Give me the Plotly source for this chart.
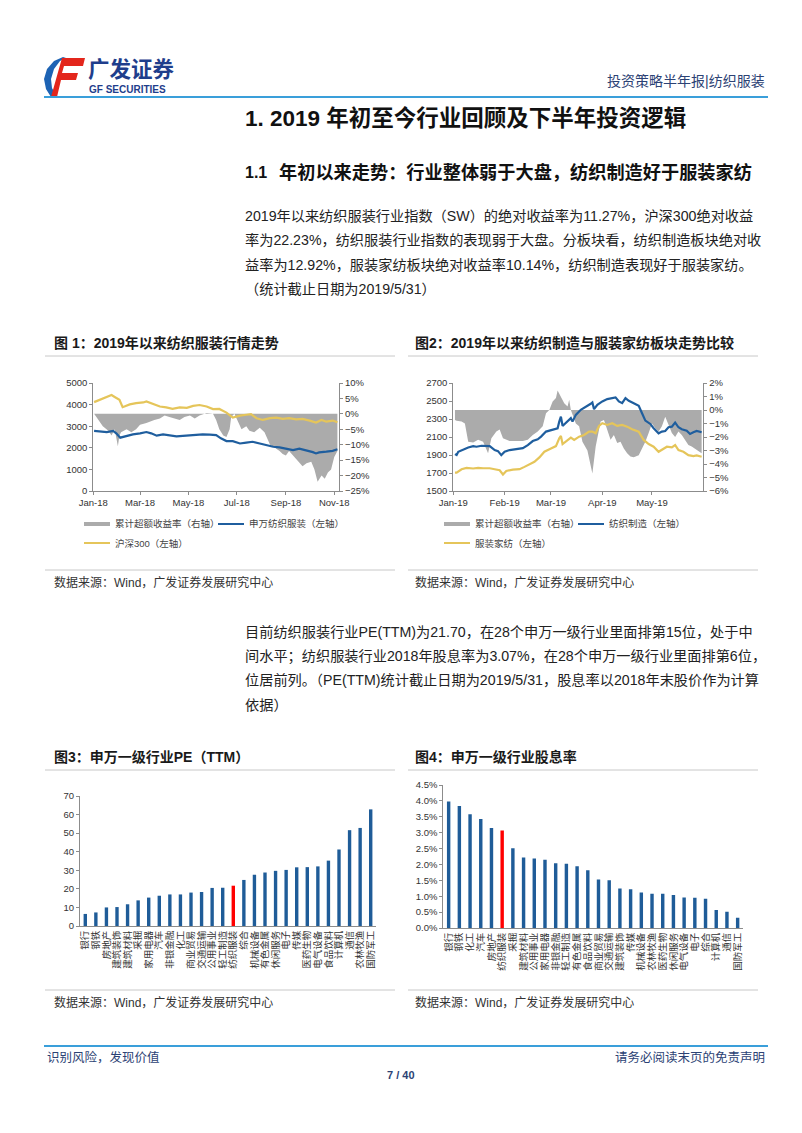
import plotly.graph_objects as go

W, H = 802, 1133
OFF = 8  # the page body adds an 8px margin; shift drawing to compensate

# ---------------- data ----------------
# Chart 1 (2018)
c1_excess_dates = ["2018-01-02","2018-01-07","2018-01-13","2018-01-20","2018-01-24","2018-01-28","2018-02-01","2018-02-03","2018-02-05","2018-02-12",
"2018-02-18","2018-02-24","2018-03-01","2018-03-09","2018-03-13","2018-03-19","2018-03-26","2018-04-01","2018-04-07","2018-04-14",
"2018-04-20","2018-04-26","2018-05-03","2018-05-09","2018-05-15","2018-05-24","2018-06-01","2018-06-05","2018-06-09","2018-06-14",
"2018-06-18","2018-06-22","2018-06-24","2018-06-28","2018-07-03","2018-07-07","2018-07-13","2018-07-17","2018-07-23","2018-07-30",
"2018-08-05","2018-08-12","2018-08-18","2018-08-24","2018-08-28","2018-09-01","2018-09-05","2018-09-12","2018-09-18","2018-09-22",
"2018-09-27","2018-10-03","2018-10-07","2018-10-11","2018-10-16","2018-10-20","2018-10-24","2018-10-28","2018-11-01","2018-11-05"]
c1_excess = [0,-2,-4,-5.5,-7,-5,-10.5,-7,-6,-5, -6,-5,-3.5,-3,-2.5,-2,-1.5,-0.5,-1,-1.5,
-2,-1,-0.5,-1.5,-0.5,0.3,0,-2,-5,-7, -7.5,-5,-1,0,-3,-5,-4,-5.5,-6,-4.5,
-6,-10,-11,-12,-13,-13.5,-12,-14,-15.5,-17, -16,-15.5,-18,-22,-20,-21,-19,-18,-14,-12]

c1_sw_dates = ["2018-01-02","2018-01-09","2018-01-18","2018-01-26","2018-01-30","2018-02-04","2018-02-12","2018-02-20","2018-03-01","2018-03-09",
"2018-03-15","2018-03-22","2018-03-30","2018-04-07","2018-04-16","2018-04-24","2018-05-03","2018-05-11","2018-05-19","2018-05-28",
"2018-06-05","2018-06-11","2018-06-18","2018-06-26","2018-07-05","2018-07-13","2018-07-21","2018-07-30","2018-08-07","2018-08-16",
"2018-08-24","2018-09-01","2018-09-10","2018-09-18","2018-09-27","2018-10-05","2018-10-09","2018-10-13","2018-10-22","2018-10-30","2018-11-05"]
c1_sw = [2780,2750,2730,2780,2670,2470,2550,2620,2670,2730, 2670,2560,2620,2580,2530,2550,2580,2620,2620,2610,
2590,2440,2310,2310,2200,2240,2280,2200,2130,2050, 2020,1960,1890,1960,1890,1800,1740,1790,1820,1860,1930]

c1_hs_dates = ["2018-01-02","2018-01-09","2018-01-18","2018-01-24","2018-01-28","2018-02-03","2018-02-07","2018-02-16","2018-02-24","2018-03-05",
"2018-03-09","2018-03-17","2018-03-26","2018-04-03","2018-04-11","2018-04-20","2018-04-29","2018-05-07","2018-05-15","2018-05-24",
"2018-06-01","2018-06-09","2018-06-18","2018-06-26","2018-07-05","2018-07-13","2018-07-19","2018-07-26","2018-08-03","2018-08-12",
"2018-08-20","2018-08-28","2018-09-05","2018-09-14","2018-09-22","2018-10-01","2018-10-09","2018-10-16","2018-10-22","2018-10-30","2018-11-05"]
c1_hs = [4115,4220,4350,4440,4350,4220,3880,4010,4070,4100, 4150,4020,3910,3870,3800,3870,3850,3940,3980,3910,
3790,3800,3630,3400,3490,3530,3560,3370,3290,3370, 3400,3340,3370,3320,3340,3260,3170,3290,3210,3260,3180]

# Chart 2 (2019)
c2_excess_dates = ["2019-01-02","2019-01-03","2019-01-06","2019-01-08","2019-01-10","2019-01-13","2019-01-16","2019-01-19","2019-01-22","2019-01-24",
"2019-01-27","2019-01-29","2019-01-31","2019-02-04","2019-02-08","2019-02-12","2019-02-15","2019-02-18","2019-02-21","2019-02-24",
"2019-02-26","2019-02-28","2019-03-02","2019-03-04","2019-03-05","2019-03-07","2019-03-09","2019-03-11","2019-03-12","2019-03-13",
"2019-03-15","2019-03-16","2019-03-18","2019-03-20","2019-03-23","2019-03-25","2019-03-26","2019-03-28","2019-03-29","2019-03-31",
"2019-04-02","2019-04-04","2019-04-06","2019-04-08","2019-04-10","2019-04-12","2019-04-14","2019-04-16","2019-04-18","2019-04-20",
"2019-04-23","2019-04-25","2019-04-27","2019-04-29","2019-05-01","2019-05-03","2019-05-05","2019-05-07","2019-05-09","2019-05-11",
"2019-05-13","2019-05-15","2019-05-17","2019-05-19","2019-05-21","2019-05-23","2019-05-25","2019-05-27","2019-05-29","2019-05-31"]
c2_excess = [-0.75,-0.8,-0.85,-1.0,-2.35,-2.4,-2.2,-2.35,-3.2,-2.1, -1.6,-1.45,-2.1,-2.3,-2.3,-2.3,-2.2,-1.85,-1.6,-1.2,
-0.25,0,0.63,0.88,1.45,1.0,0.5,0.25,0.75,0, -0.6,-1.0,-1.2,-2.35,-3.0,-4.0,-4.7,-2.7,-2.0,-0.85,
-0.75,-1.5,-2.2,-1.85,-2.45,-2.35,-2.85,-3.2,-3.45,-3.5, -3.35,-2.85,-2.35,-1.7,-1.0,-1.35,-1.6,-1.2,-0.5,-1.1,
-1.7,-2.0,-1.6,-1.85,-2.2,-2.6,-2.7,-2.85,-3.0,-3.2]

c2_mfg_dates = ["2019-01-02","2019-01-03","2019-01-04","2019-01-07","2019-01-10","2019-01-13","2019-01-15","2019-01-18","2019-01-21","2019-01-23",
"2019-01-26","2019-01-28","2019-01-30","2019-02-01","2019-02-04","2019-02-08","2019-02-12","2019-02-15","2019-02-18","2019-02-21",
"2019-02-23","2019-02-26","2019-03-02","2019-03-05","2019-03-06","2019-03-07","2019-03-08","2019-03-11","2019-03-13","2019-03-14",
"2019-03-16","2019-03-19","2019-03-22","2019-03-25","2019-03-26","2019-03-27","2019-03-29","2019-04-01","2019-04-04","2019-04-07",
"2019-04-09","2019-04-11","2019-04-13","2019-04-15","2019-04-17","2019-04-20","2019-04-23","2019-04-25","2019-04-27","2019-04-30",
"2019-05-02","2019-05-05","2019-05-07","2019-05-09","2019-05-11","2019-05-13","2019-05-15","2019-05-17","2019-05-19","2019-05-22",
"2019-05-24","2019-05-26","2019-05-28","2019-05-31"]
c2_mfg = [1910,1900,1936,1962,1984,1999,1992,2003,1996,1999, 1955,1943,1899,1936,1955,1962,1977,2010,2055,2074,
2104,2160,2178,2197,2271,2327,2223,2271,2309,2271, 2346,2402,2432,2469,2484,2409,2458,2495,2521,2532,
2540,2495,2476,2532,2502,2476,2447,2364,2282,2245, 2197,2141,2160,2167,2208,2215,2260,2208,2186,2171,
2134,2153,2167,2153]

c2_home_dates = ["2019-01-02","2019-01-03","2019-01-06","2019-01-09","2019-01-13","2019-01-16","2019-01-19","2019-01-23","2019-01-26","2019-01-29",
"2019-01-31","2019-02-02","2019-02-06","2019-02-10","2019-02-13","2019-02-16","2019-02-19","2019-02-22","2019-02-25","2019-03-01",
"2019-03-04","2019-03-06","2019-03-07","2019-03-08","2019-03-11","2019-03-13","2019-03-15","2019-03-18","2019-03-21","2019-03-24",
"2019-03-26","2019-03-28","2019-03-30","2019-04-01","2019-04-04","2019-04-07","2019-04-10","2019-04-13","2019-04-16","2019-04-19",
"2019-04-23","2019-04-26","2019-04-29","2019-05-02","2019-05-05","2019-05-08","2019-05-10","2019-05-13","2019-05-15","2019-05-17",
"2019-05-20","2019-05-23","2019-05-26","2019-05-28","2019-05-31"]
c2_home = [1705,1705,1742,1757,1750,1757,1753,1753,1742,1731, 1683,1723,1738,1742,1768,1798,1824,1873,1936,1973,
1999,2085,2111,2022,2067,2093,2067,2104,2122,2160, 2160,2141,2223,2253,2234,2253,2223,2234,2215,2186,
2160,2067,2022,1992,1936,1973,1992,1984,2010,1955, 1936,1899,1888,1895,1880]

# Chart 3: PE(TTM)
pe_industries = ["银行","钢铁","房地产","建筑装饰","建筑材料","采掘","家用电器","汽车","非银金融","化工",
"商业贸易","交通运输","公用事业","轻工制造","纺织服装","综合","机械设备","有色金属","休闲服务","电子",
"传媒","医药生物","电气设备","食品饮料","计算机","通信","农林牧渔","国防军工"]
pe_values = [6.5,7.3,10.0,10.2,11.7,13.8,15.3,16.3,17.0,17.0,18.0,18.3,20.5,20.6,21.7,24.8,27.6,28.8,29.7,30.2,
31.6,31.7,32.1,35.2,41.2,51.6,52.8,62.8]

# Chart 4: dividend yield (%)
dy_industries = ["银行","钢铁","化工","汽车","房地产","纺织服装","采掘","建筑材料","公用事业","家用电器",
"非银金融","轻工制造","有色金属","食品饮料","商业贸易","交通运输","建筑装饰","传媒","机械设备","农林牧渔",
"医药生物","休闲服务","电气设备","电子","综合","计算机","通信","国防军工"]
dy_values = [3.98,3.84,3.58,3.43,3.15,3.07,2.51,2.22,2.19,2.15,2.04,2.02,1.94,1.82,1.53,1.50,1.24,1.22,1.12,1.08,
1.08,1.04,0.96,0.95,0.92,0.57,0.51,0.32]
HIGHLIGHT = "纺织服装"

# ---------------- styling ----------------
FONT = "Liberation Sans, Arial, Noto Sans CJK SC, sans-serif"
GREY = "#ABABAB"
BLUE = "#1F5E9E"
YELLOW = "#E5C55A"
BAR = "#1F5C98"
RED = "#FF0000"
LINEBLUE = "#3A9FDA"
TICK = dict(family=FONT, size=9.5, color="#333333")
AXC = "#8C8C8C"


def X(p):
    return (p - OFF) / W


def Y(p):
    return 1 - (p - OFF) / H


def path(points):
    return "M " + " L ".join(f"{X(a):.5f},{Y(b):.5f}" for a, b in points) + " Z"


fig = go.Figure()

# chart 1
fig.add_trace(go.Scatter(x=c1_excess_dates, y=c1_excess, xaxis="x", yaxis="y", mode="lines",
                         fill="tozeroy", fillcolor=GREY, line=dict(width=0, color=GREY)))
fig.add_trace(go.Scatter(x=c1_sw_dates, y=c1_sw, xaxis="x", yaxis="y2", mode="lines",
                         line=dict(color=BLUE, width=2.2)))
fig.add_trace(go.Scatter(x=c1_hs_dates, y=c1_hs, xaxis="x", yaxis="y2", mode="lines",
                         line=dict(color=YELLOW, width=2.2)))
# chart 2
fig.add_trace(go.Scatter(x=c2_excess_dates, y=c2_excess, xaxis="x2", yaxis="y3", mode="lines",
                         fill="tozeroy", fillcolor=GREY, line=dict(width=0, color=GREY)))
fig.add_trace(go.Scatter(x=c2_mfg_dates, y=c2_mfg, xaxis="x2", yaxis="y4", mode="lines",
                         line=dict(color=BLUE, width=2.2)))
fig.add_trace(go.Scatter(x=c2_home_dates, y=c2_home, xaxis="x2", yaxis="y4", mode="lines",
                         line=dict(color=YELLOW, width=2.2)))
# chart 3
fig.add_trace(go.Bar(x=pe_industries, y=pe_values, xaxis="x3", yaxis="y5", width=0.32,
                     marker=dict(color=[RED if n == HIGHLIGHT else BAR for n in pe_industries], line=dict(width=0))))
# chart 4
fig.add_trace(go.Bar(x=dy_industries, y=dy_values, xaxis="x4", yaxis="y6", width=0.32,
                     marker=dict(color=[RED if n == HIGHLIGHT else BAR for n in dy_industries], line=dict(width=0))))

common_axis = dict(showgrid=False, zeroline=False, showline=True, linecolor=AXC, linewidth=1,
                   ticks="outside", ticklen=3, tickcolor=AXC, tickfont=TICK, automargin=False)
cat_axis = dict(type="category", tickangle=-90, showgrid=False, zeroline=False, showline=True,
                linecolor=AXC, ticks="", tickmode="array", automargin=False,
                tickfont=dict(family=FONT, size=9.5, color="#333333"))

c_dom_y = [Y(491), Y(383)]

fig.update_layout(
    width=W, height=H, margin=dict(l=0, r=0, t=0, b=0, pad=0, autoexpand=False),
    paper_bgcolor="white", plot_bgcolor="white", showlegend=False,
    font=dict(family=FONT),
    xaxis=dict(domain=[X(93.3), X(339)], anchor="y", type="date",
               range=["2018-01-01", "2018-11-07"],
               tickvals=["2018-01-01", "2018-03-01", "2018-05-01", "2018-07-01", "2018-09-01", "2018-11-01"],
               tickformat="%b-%y", **common_axis),
    yaxis=dict(domain=c_dom_y, anchor="x", side="right", range=[-25, 10], dtick=5, tick0=0,
               ticksuffix="%", **common_axis),
    yaxis2=dict(overlaying="y", anchor="x", side="left", range=[0, 5000], dtick=1000, tick0=0,
                **common_axis),
    xaxis2=dict(domain=[X(453.3), X(703.3)], anchor="y3", type="date",
                range=["2019-01-01", "2019-06-01"],
                tickvals=["2019-01-01", "2019-02-01", "2019-03-01", "2019-04-01", "2019-05-01"],
                tickformat="%b-%y", **common_axis),
    yaxis3=dict(domain=c_dom_y, anchor="x2", side="right", range=[-6, 2], dtick=1, tick0=0,
                ticksuffix="%", **common_axis),
    yaxis4=dict(overlaying="y3", anchor="x2", side="left", range=[1500, 2700], dtick=200, tick0=1500,
                **common_axis),
    xaxis3=dict(domain=[X(80), X(376)], anchor="y5", tickvals=pe_industries, ticktext=pe_industries,
                **cat_axis),
    yaxis5=dict(domain=[Y(926), Y(796)], anchor="x3", range=[0, 70], dtick=10, tick0=0, **common_axis),
    xaxis4=dict(domain=[X(443.3), X(743)], anchor="y6", tickvals=dy_industries, ticktext=dy_industries,
                **cat_axis),
    yaxis6=dict(domain=[Y(928), Y(785)], anchor="x4", range=[0, 4.5], dtick=0.5, tick0=0,
                tickformat=".1f", ticksuffix="%", **common_axis),
)

ann = []
shapes = []


def text(x, y, s, size=14, color="#1A1A1A", anchor="left"):
    ann.append(dict(x=X(x), y=Y(y), xref="paper", yref="paper", text=s, showarrow=False,
                    xanchor=anchor, yanchor="middle", font=dict(family=FONT, size=size, color=color)))


def hline(x0, x1, y, color, width=1):
    shapes.append(dict(type="line", xref="paper", yref="paper", x0=X(x0), x1=X(x1), y0=Y(y), y1=Y(y),
                       line=dict(color=color, width=width)))


# header / logo
shapes.append(dict(type="path", xref="paper", yref="paper", line=dict(width=0), fillcolor="#1D63B4",
                   path=path([(63, 57), (54, 61), (47, 69), (44, 79), (46, 89), (51, 97), (57, 97),
                              (52, 88), (51, 79), (54, 69), (60, 61), (66, 58)])))
shapes.append(dict(type="path", xref="paper", yref="paper", line=dict(width=0), fillcolor="#E3261C",
                   path=path([(62, 58), (85, 58), (83, 66), (64, 66), (62, 73), (78, 73), (76, 80),
                              (61, 80), (57, 97), (51, 97)])))
text(86, 70, "<b>广发证券</b>", size=21.5, color="#1F3E8C")
text(87, 89, "<b>GF SECURITIES</b>", size=10, color="#1F3E8C")
text(767, 81, "投资策略半年报|纺织服装", size=14, color="#2C4274", anchor="right")
hline(44, 768, 97, LINEBLUE, 2)

# titles and text
text(243, 118, "<b>1. 2019 年初至今行业回顾及下半年投资逻辑</b>", size=22.5, color="#111111")
text(243, 172, "<b>1.1</b>", size=16, color="#111111")
text(277, 172, "<b>年初以来走势：行业整体弱于大盘，纺织制造好于服装家纺</b>", size=18.2, color="#111111")

para1 = ["2019年以来纺织服装行业指数（SW）的绝对收益率为11.27%，沪深300绝对收益",
         "率为22.23%，纺织服装行业指数的表现弱于大盘。分板块看，纺织制造板块绝对收",
         "益率为12.92%，服装家纺板块绝对收益率10.14%，纺织制造表现好于服装家纺。",
         "（统计截止日期为2019/5/31）"]
for i, s in enumerate(para1):
    text(243, 216 + i * 24.4, s, size=14.2, color="#222222")

para2 = ["目前纺织服装行业PE(TTM)为21.70，在28个申万一级行业里面排第15位，处于中",
         "间水平；纺织服装行业2018年股息率为3.07%，在28个申万一级行业里面排第6位，",
         "位居前列。（PE(TTM)统计截止日期为2019/5/31，股息率以2018年末股价作为计算",
         "依据）"]
for i, s in enumerate(para2):
    text(243, 632 + i * 24.2, s, size=14.2, color="#222222")

# figure titles
text(52, 343, "<b>图 1：2019年以来纺织服装行情走势</b>", size=14)
text(413, 343, "<b>图2：2019年以来纺织制造与服装家纺板块走势比较</b>", size=14)
text(52, 757, "<b>图3：申万一级行业PE（TTM）</b>", size=14)
text(413, 757, "<b>图4：申万一级行业股息率</b>", size=14)
for yy in (356, 770, 570, 990):
    hline(45, 395, yy, "#C8C8C8", 1)
    hline(408, 758, yy, "#C8C8C8", 1)


# legends
def legend_item(x, y, label, color, thick):
    hline(x, x + 26, y, color, thick)
    text(x + 29, y, label, size=9.5, color="#444444")


legend_item(84, 524, "累计超额收益率（右轴）", GREY, 4)
legend_item(218, 524, "申万纺织服装（左轴）", BLUE, 2)
legend_item(84, 543, "沪深300（左轴）", YELLOW, 2)
legend_item(444, 524, "累计超额收益率（右轴）", GREY, 4)
legend_item(578, 524, "纺织制造（左轴）", BLUE, 2)
legend_item(444, 543, "服装家纺（左轴）", YELLOW, 2)

# sources
for sx, sy in ((52, 582), (413, 582), (52, 1002), (413, 1002)):
    text(sx, sy, "数据来源：Wind，广发证券发展研究中心", size=12, color="#333333")

# footer
hline(44, 768, 1046, LINEBLUE, 2)
text(45, 1057, "识别风险，发现价值", size=12.5, color="#2C4274")
text(767, 1057, "请务必阅读末页的免责声明", size=12.5, color="#2C4274", anchor="right")
text(401, 1075, "<b>7 / 40</b>", size=11, color="#2C4274", anchor="center")

fig.update_layout(annotations=ann, shapes=shapes)
fig.write_html("out.html")
